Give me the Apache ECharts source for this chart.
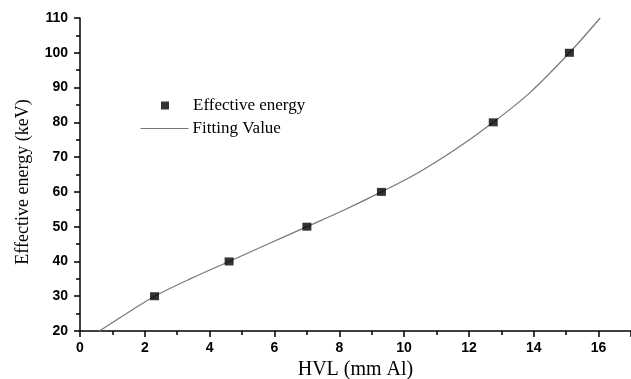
<!DOCTYPE html>
<html>
<head>
<meta charset="utf-8">
<script src="https://cdn.jsdelivr.net/npm/echarts@6/dist/echarts.min.js"></script>
<style>html,body{margin:0;padding:0;background:#fff}#c{width:631px;height:379px}</style>
</head>
<body>
<div id="c"></div>
<script>
// Measured points
var hvl = [2.3, 4.6, 7.0, 9.3, 12.75, 15.1];
var energy = [30, 40, 50, 60, 80, 100];
// Fitted curve
var fitX = [0.6, 1.45, 2.3, 3.45, 4.6, 5.8, 7.0, 8.15, 9.3, 10.45, 11.6, 12.75, 13.9, 15.1, 16.05];
var fitY = [20, 25.1, 30, 35.2, 40, 45.0, 50, 54.8, 60, 65.6, 72.3, 80, 88.7, 100, 110];

var chart = echarts.init(document.getElementById('c'));
var axisLine = {show: true, lineStyle: {color: '#000', width: 1.5}};
var labelStyle = {color: '#000', fontFamily: 'Liberation Sans', fontWeight: 'bold', fontSize: 14};
chart.setOption({
  animation: false,
  backgroundColor: '#fff',
  grid: {left: 80, right: 0, top: 18, bottom: 48, containLabel: false, outerBoundsMode: 'none'},
  legend: [
    {data: ['Effective energy'], orient: 'vertical', left: 156, top: 92, icon: 'rect',
     itemWidth: 8, itemHeight: 8, itemGap: 0,
     textStyle: {fontFamily: 'Liberation Serif', fontSize: 17, color: '#000', padding: [0, 0, 0, 19]}},
    {data: ['Fitting Value'], orient: 'vertical', left: 135, top: 115, itemWidth: 48, itemHeight: 14,
     itemStyle: {opacity: 0},
     lineStyle: {color: '#777', width: 1.2, opacity: 1},
     textStyle: {fontFamily: 'Liberation Serif', fontSize: 17, color: '#000', padding: [0, 0, 0, -1]}}
  ],
  xAxis: {
    type: 'value', min: 0, max: 17, interval: 2,
    name: 'HVL (mm Al)', nameLocation: 'middle', nameGap: 24,
    nameTextStyle: {fontFamily: 'Liberation Serif', fontSize: 20, color: '#000'},
    axisLine: axisLine,
    axisTick: {show: true, length: 6, lineStyle: {color: '#000', width: 1.5}},
    minorTick: {show: true, splitNumber: 2, length: 4, lineStyle: {color: '#000', width: 1.5}},
    axisLabel: Object.assign({margin: 10, showMaxLabel: false,
      formatter: function (v) { return v % 2 === 0 ? String(v) : ''; }}, labelStyle),
    splitLine: {show: false}
  },
  yAxis: {
    type: 'value', min: 20, max: 110, interval: 10,
    name: 'Effective energy (keV)', nameLocation: 'middle', nameGap: 48,
    nameTextStyle: {fontFamily: 'Liberation Serif', fontSize: 18, color: '#000', padding: [0, 15, 0, 0]},
    axisLine: axisLine,
    axisTick: {show: true, length: 6, lineStyle: {color: '#000', width: 1.5}},
    minorTick: {show: true, splitNumber: 2, length: 4, lineStyle: {color: '#000', width: 1.5}},
    axisLabel: Object.assign({margin: 12}, labelStyle),
    splitLine: {show: false}
  },
  series: [
    {name: 'Fitting Value', type: 'line', smooth: 0.3, showSymbol: false, symbol: 'none',
     data: fitX.map(function (x, i) { return [x, fitY[i]]; }),
     lineStyle: {color: '#777', width: 1.2}, itemStyle: {color: '#777'}, z: 2},
    {name: 'Effective energy', type: 'scatter', symbol: 'rect', symbolSize: [9, 8],
     data: hvl.map(function (x, i) { return [x, energy[i]]; }),
     itemStyle: {color: '#000'}, z: 3}
  ]
});
</script>
</body>
</html>
